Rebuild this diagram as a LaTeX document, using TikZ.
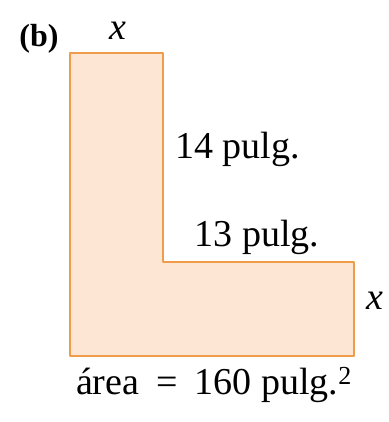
\documentclass[tikz,border=0pt]{standalone}
\usepackage{fontspec}
\setmainfont{Liberation Serif}
\definecolor{lfill}{HTML}{FDE7D4}
\definecolor{ledge}{HTML}{EF9D4A}
\begin{document}
\begin{tikzpicture}[x=1pt,y=-1pt,lbl/.style={font=\fontsize{38}{42}\selectfont,inner sep=0pt}]
 \useasboundingbox (0,0) rectangle (388,422);
 \draw[ledge,line width=2.6pt,fill=lfill,line join=round](70,53)--(163,53)--(163,262)--(354,262)--(354,356)--(70,356)--cycle;
 \node[lbl,font=\fontsize{32}{36}\selectfont\bfseries] (tag) at (39,39) {(b)};
 \node[lbl] (xtop) at (118,31) {\textit{x}};
 \node[lbl,anchor=west] (side) at (175,149) {14 pulg.};
 \node[lbl] (step) at (257,237) {13 pulg.};
 \node[lbl] (xright) at (375,301) {\textit{x}};
 \node[lbl,anchor=base] (area) at (214,394) {área\hspace{0.45em}=\hspace{0.45em}160 pulg.\textsuperscript{\fontsize{26}{28}\selectfont 2}};
\end{tikzpicture}
\end{document}
